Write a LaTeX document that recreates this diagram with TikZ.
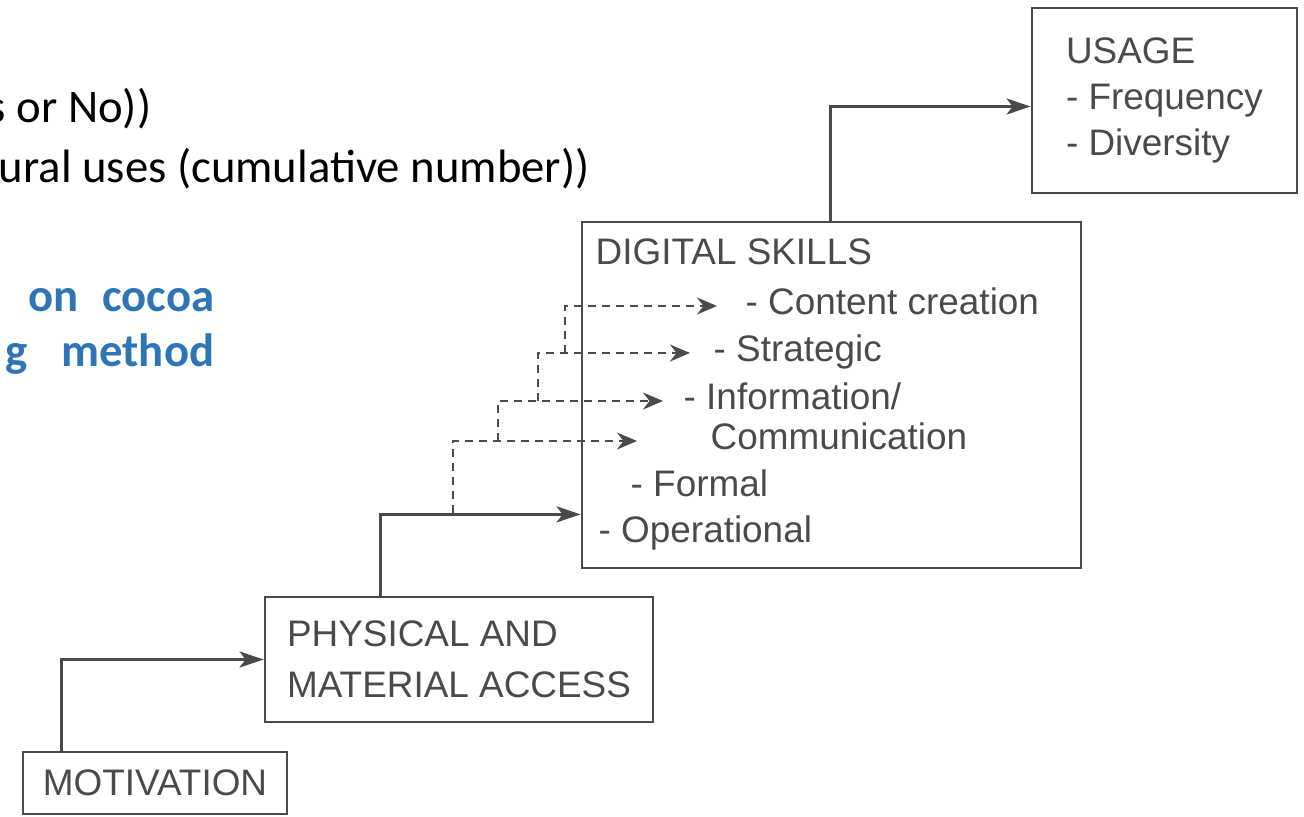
\documentclass[tikz,border=0pt]{standalone}
\usepackage{fontspec}
\usepackage{xcolor}
\usepackage{tikz}
\usetikzlibrary{arrows.meta, positioning, calc}

\newfontfamily\diagfont{Liberation Sans}
\newfontfamily\slidefont{Carlito}
\definecolor{slideblue}{HTML}{2E75B6}
\definecolor{scangray}{HTML}{4A4A4A}

\begin{document}
\begin{tikzpicture} [x = 0.1mm, y = -0.1mm, on grid, scangray, font = \diagfont\fontsize{10.5}{14}\selectfont,
	stage/.style = {draw, line width = 0.8pt, align = left, inner sep = 0pt},
	skillitem/.style = {anchor = base west, inner sep = 0pt, text height = 2.6mm, text depth = 0.8mm},
	flowarrow/.style = {-{Stealth[length = 2.4mm, width = 1.6mm, inset = 0.6mm]}, line width = 0.8pt},
	skillarrow/.style = {-{Stealth[length = 2mm, width = 1.7mm]}, line width = 0.6pt, dash pattern = on 0.8mm off 0.6mm},
	slide/.style = {black, inner sep = 0pt, font = \slidefont\fontsize{13.3}{16}\selectfont}]
			% Help grid
			%	\draw [help lines, step = 100] (0,0) grid (1300,800);
			\useasboundingbox (0,0) rectangle (1304,817);

			% Slide text left of the staircase
			\node (line1) [slide, anchor = base east] at (152,123) {s or No))};
			\node (line2) [slide, anchor = base west] at (-2,183) {ural uses (cumulative number))};
			\node (head1) [slide, slideblue, anchor = base east, font = \slidefont\bfseries\fontsize{13.3}{16}\selectfont]
			at (215,312) {on\hspace{2.4mm}cocoa};
			\node (head2) [slide, slideblue, anchor = base east, font = \slidefont\bfseries\fontsize{13.3}{16}\selectfont]
			at (215,367) {g\hspace{3.4mm}method};

			% First step : every other step is measured based to this one
			\node (motiv) [stage, minimum width = 26.4mm, minimum height = 6.2mm] at (155,783) {MOTIVATION};

			\node (access) [stage, minimum width = 38.8mm, minimum height = 12.5mm,
			font = \diagfont\fontsize{10.5}{14.5}\selectfont, above right = 12.35mm and 30.4mm of motiv]
			{PHYSICAL AND\\MATERIAL ACCESS};

			\node (skills) [stage, minimum width = 49.9mm, minimum height = 34.6mm,
			above right = 26.45mm and 37.25mm of access] {};

			% Last step
			\node (usage) [stage, minimum width = 26.5mm, minimum height = 18.5mm,
			font = \diagfont\fontsize{10.5}{13}\selectfont, above right = 29.45mm and 33.3mm of skills]
			{USAGE\\- Frequency\\- Diversity};

			% Lines inside the skills box
			\node (title) [skillitem] at (595,265) {DIGITAL SKILLS};
			\node (content) [skillitem] at (745,315) {- Content creation};
			\node (strat) [skillitem] at (713,362) {- Strategic};
			\node (info) [skillitem] at (683,410) {- Information/};
			\node (comm) [skillitem] at (710,450) {Communication};
			\node (formal) [skillitem] at (630,497) {- Formal};
			\node (oper) [skillitem] at (598,543) {- Operational};

			% Draw Arrows/Connections
			\draw [flowarrow] ($(motiv.north west)+(40,0)$) |- (access.west);
			\draw [flowarrow] ($(access.north west)+(117,0)$) |- ($(skills.south west)+(0,-55)$);
			\draw [flowarrow] ($(skills.north west)+(250,0)$) |- ($(usage.west)+(0,6)$);

			% Dashed staircase up to the higher skills
			\coordinate (s4) at (453,513);
			\coordinate (s3) at (498,441);
			\coordinate (s2) at (538,401);
			\coordinate (s1) at (565,353);
			\draw [skillarrow, shorten > = 7.3mm] (s4) |- (comm.west);
			\draw [skillarrow, shorten > = 2mm] (s3) |- (info.west);
			\draw [skillarrow, shorten > = 2.3mm] (s2) |- (strat.west);
			\draw [skillarrow, shorten > = 2.8mm] (s1) |- (content.west);
		\end{tikzpicture}
\end{document}
